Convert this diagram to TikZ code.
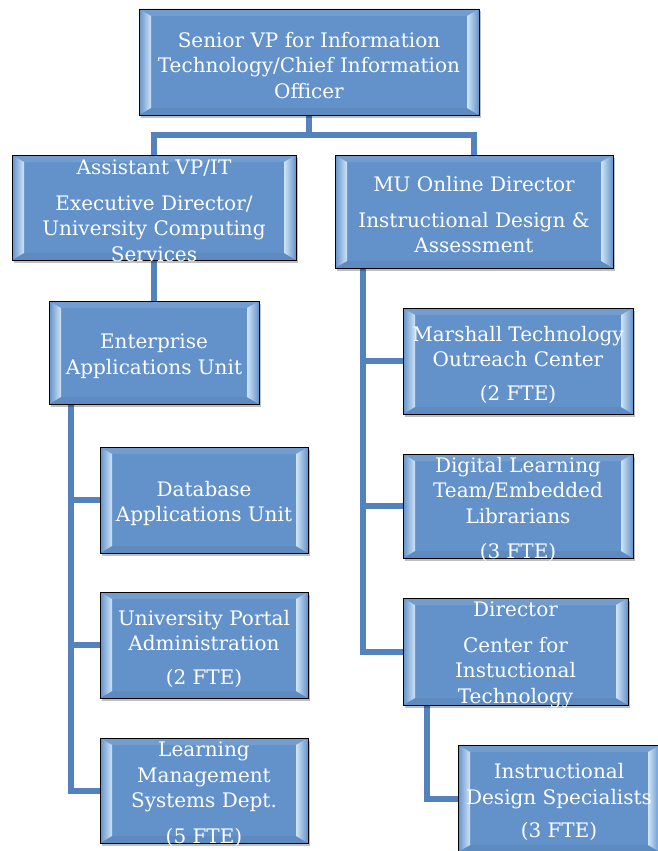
\documentclass[tikz,border=0pt]{standalone}
\usepackage{fontspec}
\setmainfont{DejaVu Serif}
\usetikzlibrary{shadows,backgrounds}

\definecolor{boxblue}{RGB}{98,146,201}
\definecolor{bevlight}{RGB}{208,228,247}
\definecolor{connblue}{RGB}{84,130,190}

\begin{document}
\begin{tikzpicture}[
  x=1pt, y=-1pt,
  unit/.style={draw=black, line width=.9pt, fill=boxblue, minimum height=106pt,
               inner sep=0pt, drop shadow={shadow xshift=1.5pt, shadow yshift=-2.5pt,
               fill=black, opacity=.25},
               path picture={
                 \path (path picture bounding box.south west) coordinate (bsw)
                       (path picture bounding box.south east) coordinate (bse)
                       (path picture bounding box.north west) coordinate (bnw)
                       (path picture bounding box.north east) coordinate (bne);
                 \fill[boxblue!90!white] (bnw) -- (bne) -- ([shift={(-12pt,-7pt)}]bne)
                   -- ([shift={(12pt,-7pt)}]bnw) -- cycle;
                 \fill[boxblue!95!black] (bsw) -- (bse) -- ([shift={(-12pt,7pt)}]bse)
                   -- ([shift={(12pt,7pt)}]bsw) -- cycle;
                 \shade[left color=boxblue, right color=bevlight] (bsw)
                   -- ([shift={(12pt,7pt)}]bsw) -- ([shift={(12pt,-7pt)}]bnw) -- (bnw) -- cycle;
                 \shade[left color=bevlight, right color=boxblue] (bse)
                   -- ([shift={(-12pt,7pt)}]bse) -- ([shift={(-12pt,-7pt)}]bne) -- (bne) -- cycle;
               }},
  lbl/.style={text=white, align=center, inner sep=0pt, yshift=-3.5pt,
              font=\fontsize{20}{25.5}\selectfont},
  conn/.style={draw=connblue, line width=6pt}
]
\useasboundingbox (0,0) rectangle (658,851);

% boxes
\node[unit, minimum width=340pt] (top) at (309,62) {};
\node[unit, minimum width=284pt, minimum height=105pt] (avp) at (154,207.5) {};
\node[unit, minimum width=278pt, minimum height=113pt] (mu) at (474,211.5) {};
\node[unit, minimum width=210pt, minimum height=103pt] (ent) at (154,352.5) {};
\node[unit, minimum width=208pt] (db) at (204,500) {};
\node[unit, minimum width=208pt] (portal) at (204,645) {};
\node[unit, minimum width=208pt, minimum height=105pt] (lms) at (204,790.5) {};
\node[unit, minimum width=230pt] (mot) at (518,361) {};
\node[unit, minimum width=230pt, minimum height=104pt] (dlt) at (518,506) {};
\node[unit, minimum width=225pt, minimum height=107pt] (dir) at (515.5,651.5) {};
\node[unit, minimum width=202pt, minimum height=107pt] (ids) at (559,798.5) {};

% texts
\node[lbl] (topT) at (top) {Senior VP for Information\\Technology/Chief Information\\Officer};
\node[lbl] (avpT) at (avp) {Assistant VP/IT\\[10pt]Executive Director/\\University Computing\\Services};
\node[lbl] (muT) at (mu) {MU Online Director\\[10pt]Instructional Design \&\\Assessment};
\node[lbl] (entT) at (ent) {Enterprise\\Applications Unit};
\node[lbl] (dbT) at (db) {Database\\Applications Unit};
\node[lbl] (portalT) at (portal) {University Portal\\Administration\\[8pt](2 FTE)};
\node[lbl] (lmsT) at (lms) {Learning\\Management\\Systems Dept.\\[10pt](5 FTE)};
\node[lbl] (motT) at (mot) {Marshall Technology\\Outreach Center\\[8pt](2 FTE)};
\node[lbl] (dltT) at (dlt) {Digital Learning\\Team/Embedded\\Librarians\\[10pt](3 FTE)};
\node[lbl] (dirT) at (dir) {Director\\[10pt]Center for\\Instuctional\\Technology};
\node[lbl] (idsT) at (ids) {Instructional\\Design Specialists\\[8pt](3 FTE)};

% connectors
\begin{scope}[on background layer]
\draw[conn] (top.south) -- ++(0,20) -| (avp.north);
\draw[conn] (top.south) -- ++(0,20) -| (mu.north);
\draw[conn] (avp.south) -- (ent.north);
\foreach \n in {db,portal,lms}
  \draw[conn] ([xshift=22pt]ent.south west) |- (\n.west);
\foreach \n in {mot,dlt,dir}
  \draw[conn] ([xshift=28pt]mu.south west) |- (\n.west);
\draw[conn] ([xshift=24pt]dir.south west) |- (ids.west);
\end{scope}
\end{tikzpicture}
\end{document}
